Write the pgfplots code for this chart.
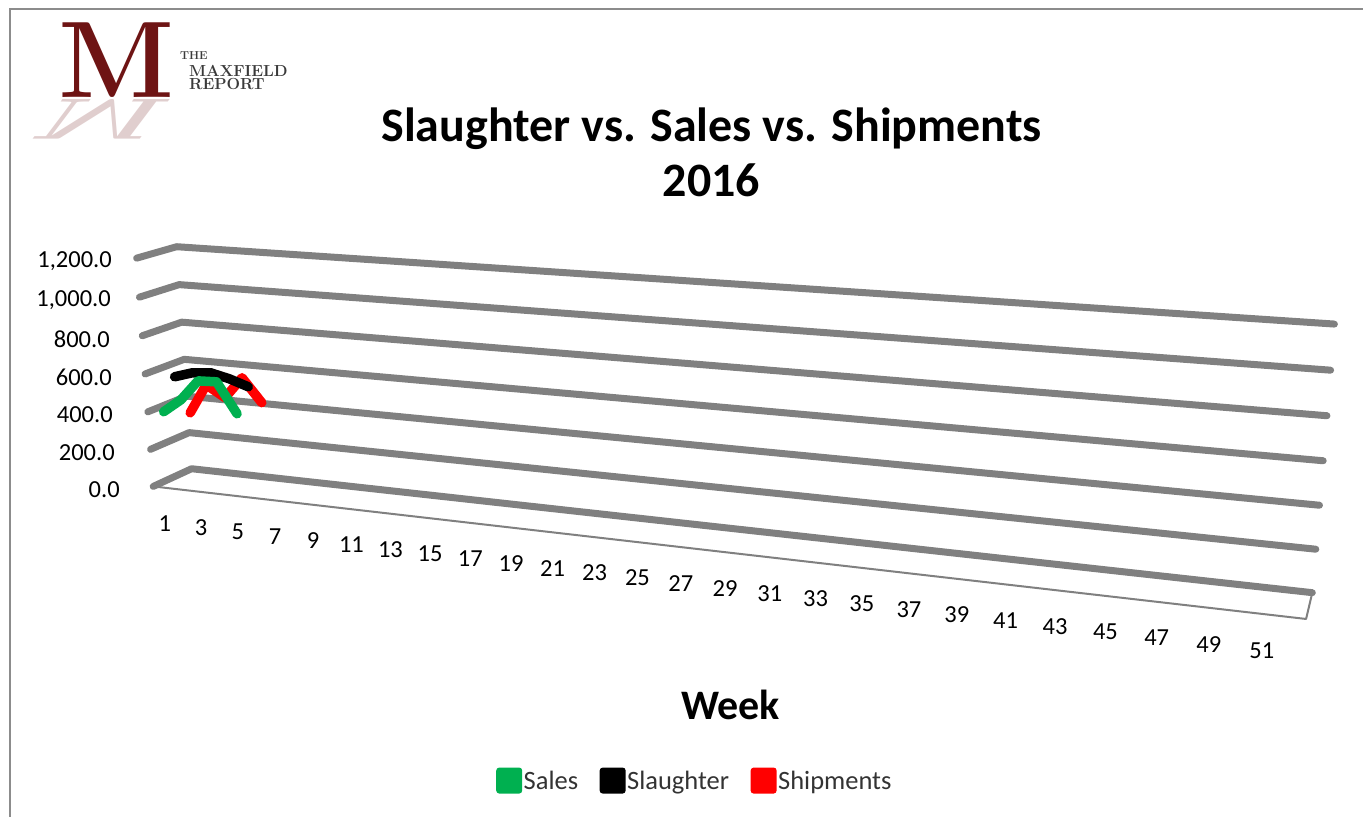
\documentclass[border=0pt]{standalone}
\usepackage{fontspec}
\usepackage{pgfplots}
\usepackage{pgfplotstable}
\pgfplotsset{compat=1.18}
\newfontfamily\calibri{Carlito}
\definecolor{gridgray}{HTML}{808080}
\definecolor{xlgreen}{HTML}{00B050}
\definecolor{xlred}{HTML}{FF0000}
\definecolor{maroon}{HTML}{6E1414}
\definecolor{logogray}{HTML}{3A3A3A}
\definecolor{bordergray}{HTML}{8C8C8C}

\pgfplotstableread{
week val
1 391
2 464
3 573
4 577
5 419
}\sales
\pgfplotstableread{
week val
1 550
2 580
3 589
4 566
5 533
}\slaughter
\pgfplotstableread{
week val
1 328
2 489
3 429
4 545
5 421
}\shipments

\newcommand\tickfont{\calibri\fontsize{24.5bp}{28bp}\selectfont}

\begin{document}
\begin{tikzpicture}[declare function={
  DEN(\u,\d,\h)=1-0.18707*\u+0.029678*\d-0.02942*\h;
  PX(\u,\d,\h)=(153.3+908.96*\u+44.09*\d-20.62*\h)/DEN(\u,\d,\h);
  PY(\u,\d,\h)=817-(486.7+16.75*\u-3.78*\d-236.0*\h)/DEN(\u,\d,\h);
}]
\begin{axis}[
  scale only axis, width=1364bp, height=817bp,
  xmin=0, xmax=1364, ymin=0, ymax=817,
  hide axis, clip=false,
  reverse legend,
  legend columns=3,
  legend style={at={(0.5095,0.04406)}, anchor=center, draw=none, fill=none,
    font=\calibri\fontsize{26.5bp}{30bp}\selectfont, text=black!80,
    nodes={inner sep=1.5bp},
    /tikz/every even column/.append style={column sep=20bp}},
  legend image code/.code={\path[#1, draw=none, line width=0pt, fill, rounded corners=3bp] (0bp,-13bp) rectangle (26bp,13bp);},
]
\path (axis cs:0,0) rectangle (axis cs:1364,817);
% chart area border
\draw[bordergray, line width=1.5bp] (axis cs:10,0) -- (axis cs:10,808) -- (axis cs:1364,808);

% floor outline
\addplot[gridgray, line width=2bp, line join=round, forget plot]
  table[row sep=\\, x expr={PX(\thisrow{u},\thisrow{d},0)}, y expr={PY(\thisrow{u},\thisrow{d},0)}]
  {u d\\ 0 0\\ 1 0\\ 1 1\\};
% gridlines on side and back walls
\pgfplotsinvokeforeach{0,200,400,600,800,1000,1200}{
  \addplot[gridgray, line width=7bp, line cap=round, line join=round, forget plot]
    table[row sep=\\, x expr={PX(\thisrow{u},\thisrow{d},#1/1200)}, y expr={PY(\thisrow{u},\thisrow{d},#1/1200)}]
    {u d\\ 0 0\\ 0 1\\ 1 1\\};
}

% data series (back to front)
\addplot[xlred, line width=9.5bp, line cap=round, line join=round]
  table[x expr={PX((\thisrow{week}-0.5)/52,5/6,\thisrow{val}/1200)}, y expr={PY((\thisrow{week}-0.5)/52,5/6,\thisrow{val}/1200)}] {\shipments};
\addlegendentry{Shipments}
\addplot[black, line width=9.5bp, line cap=round, line join=round]
  table[x expr={PX((\thisrow{week}-0.5)/52,0.5,\thisrow{val}/1200)}, y expr={PY((\thisrow{week}-0.5)/52,0.5,\thisrow{val}/1200)}] {\slaughter};
\addlegendentry{Slaughter}
\addplot[xlgreen, line width=9.5bp, line cap=round, line join=round]
  table[x expr={PX((\thisrow{week}-0.5)/52,1/6,\thisrow{val}/1200)}, y expr={PY((\thisrow{week}-0.5)/52,1/6,\thisrow{val}/1200)}] {\sales};
\addlegendentry{Sales}

% value labels
\node[anchor=east, inner sep=0pt, font=\tickfont] at (axis cs:112,{PY(0,0,1)-3}) {1,200.0};
\node[anchor=east, inner sep=0pt, font=\tickfont] at (axis cs:111,{PY(0,0,5/6)-3}) {1,000.0};
\node[anchor=east, inner sep=0pt, font=\tickfont] at (axis cs:110,{PY(0,0,4/6)-3}) {800.0};
\node[anchor=east, inner sep=0pt, font=\tickfont] at (axis cs:112,{PY(0,0,3/6)-3}) {600.0};
\node[anchor=east, inner sep=0pt, font=\tickfont] at (axis cs:113,{PY(0,0,2/6)-3}) {400.0};
\node[anchor=east, inner sep=0pt, font=\tickfont] at (axis cs:115,{PY(0,0,1/6)-3}) {200.0};
\node[anchor=east, inner sep=0pt, font=\tickfont] at (axis cs:120,{PY(0,0,0)-3}) {0.0};
% week labels
\pgfplotsinvokeforeach{1,3,...,51}{
  \node[inner sep=0pt, font=\tickfont] at (axis cs:{0.99452*PX((#1-0.5)/52,0,0)+3.5},{PY((#1-0.5)/52,0,0)-36}) {#1};
}

% titles
\node[font=\calibri\bfseries\fontsize{48bp}{55bp}\selectfont, align=center, anchor=north] at (axis cs:712,817-104) {Slaughter vs. Sales vs. Shipments\\2016};
\node[font=\calibri\bfseries\fontsize{42bp}{48bp}\selectfont] at (axis cs:731,817-705) {Week};

% logo
\node[anchor=base west, inner sep=0pt, text=maroon, font=\bfseries\fontsize{109bp}{110bp}\selectfont] at (axis cs:58,817-98) {M};
\node[anchor=base west, inner sep=0pt, text=maroon!35, opacity=0.6, cm={1,0,-0.4,-0.53,(0,0)}, font=\bfseries\fontsize{109bp}{110bp}\selectfont] at (axis cs:58,817-100) {M};
\node[anchor=base west, inner sep=0pt, text=logogray, font=\bfseries\fontsize{11.5bp}{12bp}\selectfont] at (axis cs:180,817-60) {THE};
\node[anchor=base west, inner sep=0pt, text=logogray, font=\bfseries\fontsize{16bp}{17bp}\selectfont] at (axis cs:189,817-76.5) {MAXFIELD};
\node[anchor=base west, inner sep=0pt, text=logogray, font=\bfseries\fontsize{16bp}{17bp}\selectfont] at (axis cs:189,817-90) {REPORT};
\end{axis}
\end{tikzpicture}
\end{document}
